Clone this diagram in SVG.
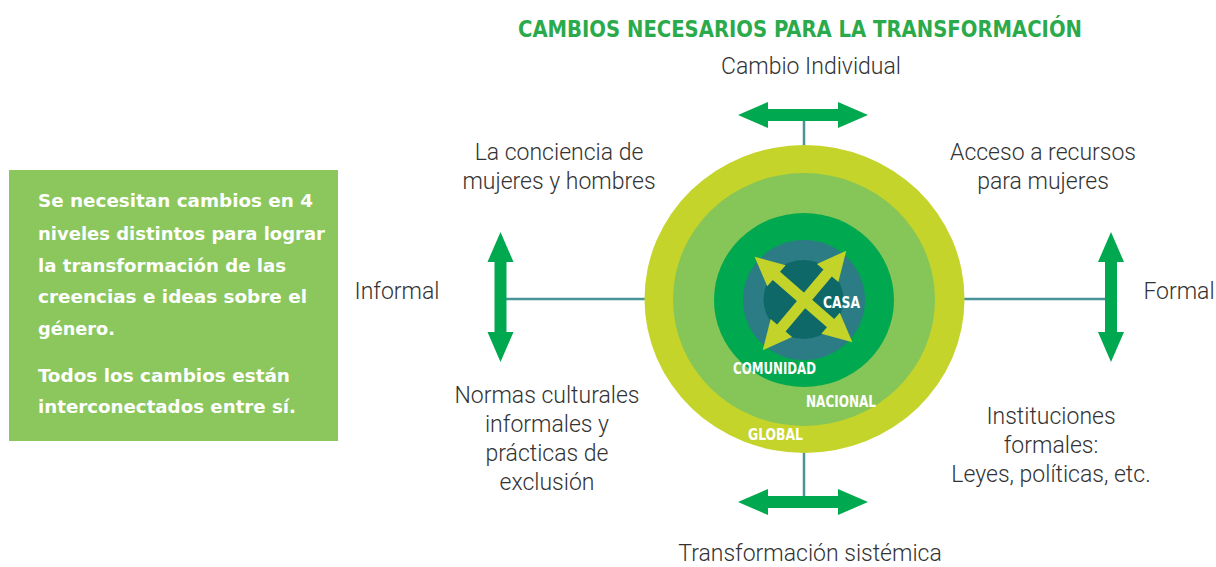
<svg xmlns="http://www.w3.org/2000/svg" xmlns:xlink="http://www.w3.org/1999/xlink" width="1216" height="567" viewBox="0 0 1216 567">
<style>
.lbl{font-family:Roboto,"Liberation Sans",sans-serif;font-weight:300;font-size:23px;fill:#333333;text-anchor:middle}
.box{font-family:"DejaVu Sans Condensed","DejaVu Sans",sans-serif;font-weight:bold;font-size:18px;fill:#ffffff}
.ring{font-family:"DejaVu Sans Condensed","DejaVu Sans",sans-serif;font-weight:bold;font-size:15px;fill:#ffffff}
.title{font-family:"DejaVu Sans Condensed","DejaVu Sans",sans-serif;font-weight:bold;font-size:23px;fill:#2BAA4B}
.conn{stroke:#4A9399;stroke-width:2.5;fill:none}
.garrow{fill:#00A84F}
.carrow{fill:#C3D32A}
</style>
<defs>
<path id="dbl" d="M-65,0 L-35,-13 L-35,-6 L35,-6 L35,-13 L65,0 L35,13 L35,6 L-35,6 L-35,13 Z"/>
<path id="xdbl" d="M-65,0 L-36,-14 L-36,-5.5 L36,-5.5 L36,-14 L65,0 L36,14 L36,5.5 L-36,5.5 L-36,14 Z"/>
</defs>
<rect width="1216" height="567" fill="#ffffff"/>
<text class="title" x="518" y="37" textLength="564" lengthAdjust="spacingAndGlyphs">CAMBIOS NECESARIOS PARA LA TRANSFORMACIÓN</text>
<g id="connectors">
<line class="conn" x1="804" y1="115" x2="804" y2="502"/>
<line class="conn" x1="500" y1="299" x2="1111" y2="299"/>
</g>
<g id="info-box">
<rect x="9" y="170" width="329" height="271" fill="#8BC75C"/>
<text class="box" x="38" y="207" textLength="275" lengthAdjust="spacingAndGlyphs">Se necesitan cambios en 4</text>
<text class="box" x="38" y="240" textLength="287" lengthAdjust="spacingAndGlyphs">niveles distintos para lograr</text>
<text class="box" x="38" y="272" textLength="248" lengthAdjust="spacingAndGlyphs">la transformación de las</text>
<text class="box" x="38" y="303" textLength="269" lengthAdjust="spacingAndGlyphs">creencias e ideas sobre el</text>
<text class="box" x="38" y="335" textLength="77" lengthAdjust="spacingAndGlyphs">género.</text>
<text class="box" x="38" y="382" textLength="252" lengthAdjust="spacingAndGlyphs">Todos los cambios están</text>
<text class="box" x="38" y="413" textLength="258" lengthAdjust="spacingAndGlyphs">interconectados entre sí.</text>
</g>
<g id="circles">
<ellipse cx="804.5" cy="299" rx="160" ry="154" fill="#C5D42B"/>
<ellipse cx="804" cy="299.5" rx="131" ry="126.5" fill="#86C557"/>
<ellipse cx="804" cy="300" rx="90" ry="87" fill="#00A84F"/>
<ellipse cx="804" cy="300" rx="61" ry="60" fill="#2B7C85"/>
<ellipse cx="803.5" cy="299.5" rx="40" ry="39.5" fill="#0F6868"/>
<use xlink:href="#xdbl" href="#xdbl" class="carrow" transform="translate(803.5,299.5) rotate(41.2)"/>
<use xlink:href="#xdbl" href="#xdbl" class="carrow" transform="translate(804.5,300.5) rotate(-50)"/>
<text class="ring" x="823" y="308" textLength="37" lengthAdjust="spacingAndGlyphs">CASA</text>
<text class="ring" x="733" y="374" textLength="83" lengthAdjust="spacingAndGlyphs">COMUNIDAD</text>
<text class="ring" x="806" y="407" textLength="70" lengthAdjust="spacingAndGlyphs">NACIONAL</text>
<text class="ring" x="748" y="440" textLength="55" lengthAdjust="spacingAndGlyphs">GLOBAL</text>
</g>
<g id="arrow-top"><use xlink:href="#dbl" href="#dbl" class="garrow" transform="translate(803,115)"/></g>
<g id="arrow-bottom"><use xlink:href="#dbl" href="#dbl" class="garrow" transform="translate(803,502)"/></g>
<g id="arrow-left"><use xlink:href="#dbl" href="#dbl" class="garrow" transform="translate(500.5,297) rotate(90)"/></g>
<g id="arrow-right"><use xlink:href="#dbl" href="#dbl" class="garrow" transform="translate(1111,297) rotate(90)"/></g>
<g id="label-top"><text class="lbl" x="811" y="74">Cambio Individual</text></g>
<g id="label-bottom"><text class="lbl" x="810" y="561">Transformación sistémica</text></g>
<g id="label-left"><text class="lbl" x="397" y="299">Informal</text></g>
<g id="label-right"><text class="lbl" x="1179" y="299">Formal</text></g>
<g id="label-tl"><text class="lbl" x="559" y="160">La conciencia de</text><text class="lbl" x="559" y="189">mujeres y hombres</text></g>
<g id="label-tr"><text class="lbl" x="1043" y="160">Acceso a recursos</text><text class="lbl" x="1043" y="189">para mujeres</text></g>
<g id="label-bl"><text class="lbl" x="547" y="403">Normas culturales</text><text class="lbl" x="547" y="432">informales y</text><text class="lbl" x="547" y="461">prácticas de</text><text class="lbl" x="547" y="490">exclusión</text></g>
<g id="label-br"><text class="lbl" x="1051" y="424">Instituciones</text><text class="lbl" x="1051" y="453">formales:</text><text class="lbl" x="1051" y="482">Leyes, políticas, etc.</text></g>
</svg>
